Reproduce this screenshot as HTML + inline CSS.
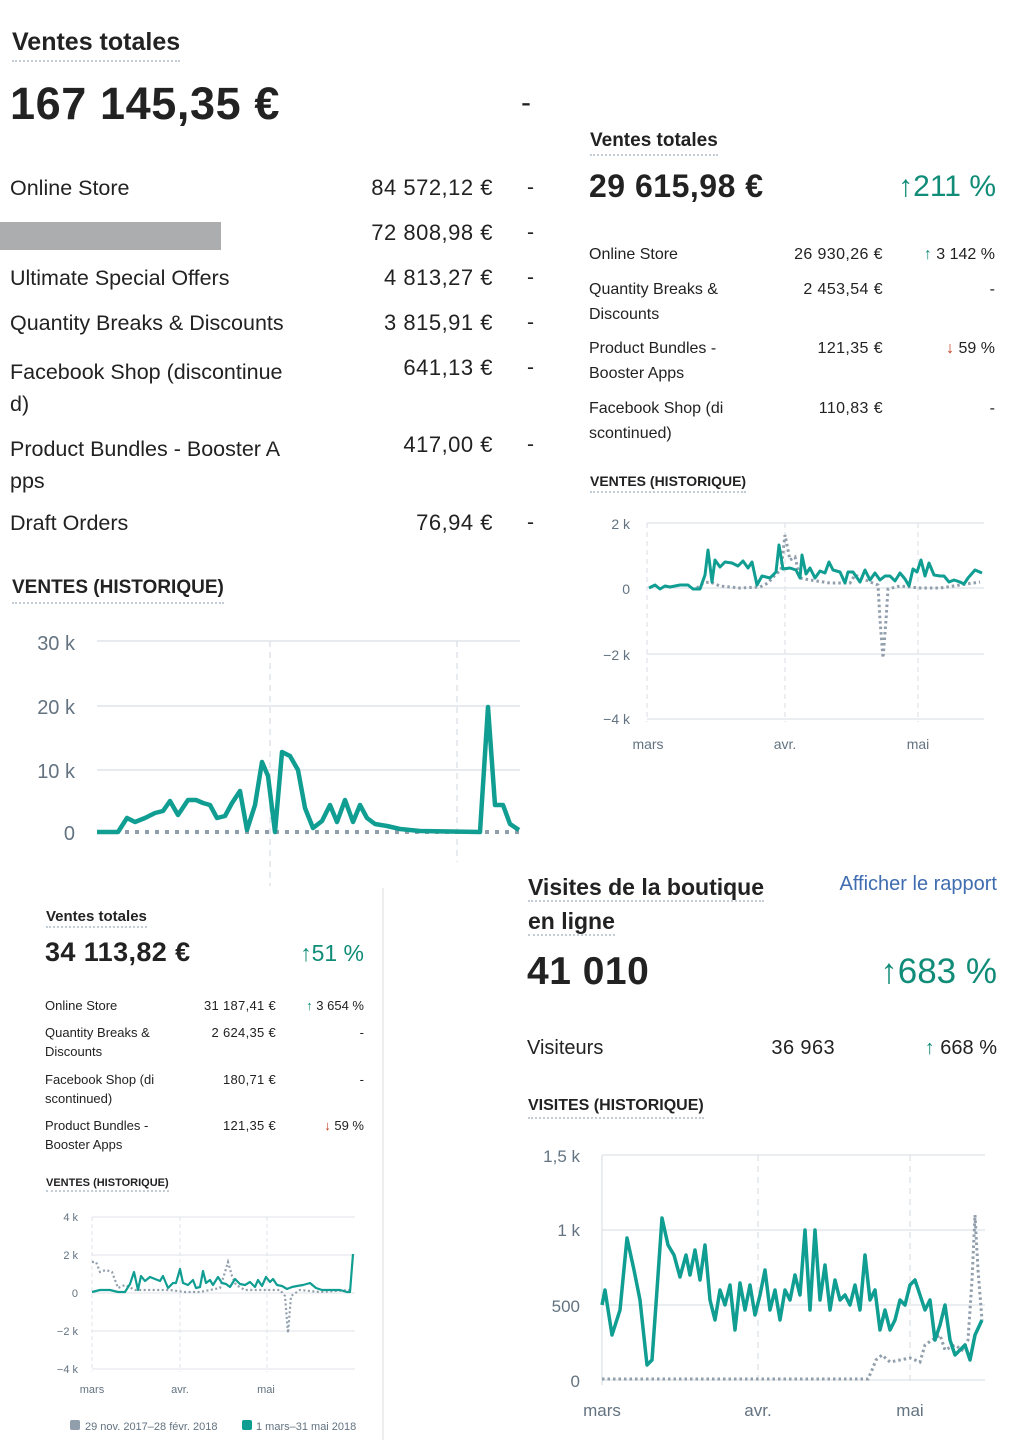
<!DOCTYPE html>
<html><head><meta charset="utf-8"><style>
*{margin:0;padding:0;box-sizing:border-box}
body{width:1018px;height:1440px;position:relative;background:#fff;font-family:"Liberation Sans",sans-serif;color:#222;overflow:hidden}
.a{position:absolute;white-space:nowrap}
.r{text-align:right}
.t{font-weight:bold;border-bottom:2px dotted #c4cdd5}
.g{color:#108c78}
.red{color:#bf3a1c}
.gr{color:#637381}
</style></head><body>

<!-- TOP LEFT -->
<div class="a t" style="left:12px;top:28px;font-size:25px;padding-bottom:3px">Ventes totales</div>
<div class="a" style="left:10px;top:78px;font-size:45px;font-weight:bold;letter-spacing:0.6px">167 145,35 €</div>
<div class="a" style="left:521px;top:86px;font-size:30px">-</div>
<div style="position:absolute;left:0;top:222px;width:221px;height:28px;background:#acadae"></div>
<div class="a" style="left:10px;top:176px;font-size:21.5px;line-height:24px">Online Store</div>
<div class="a" style="left:10px;top:266px;font-size:21.5px;line-height:24px">Ultimate Special Offers</div>
<div class="a" style="left:10px;top:311px;font-size:21.5px;line-height:24px">Quantity Breaks &amp; Discounts</div>
<div class="a" style="left:10px;top:356px;font-size:21.5px;line-height:32px">Facebook Shop (discontinue<br>d)</div>
<div class="a" style="left:10px;top:433px;font-size:21.5px;line-height:32px">Product Bundles - Booster A<br>pps</div>
<div class="a" style="left:10px;top:511px;font-size:21.5px;line-height:24px">Draft Orders</div>
<div class="a r" style="left:300px;width:193px;top:176px;font-size:22px;line-height:24px;letter-spacing:0.5px">84 572,12 €</div>
<div class="a r" style="left:300px;width:193px;top:221px;font-size:22px;line-height:24px;letter-spacing:0.5px">72 808,98 €</div>
<div class="a r" style="left:300px;width:193px;top:266px;font-size:22px;line-height:24px;letter-spacing:0.5px">4 813,27 €</div>
<div class="a r" style="left:300px;width:193px;top:311px;font-size:22px;line-height:24px;letter-spacing:0.5px">3 815,91 €</div>
<div class="a r" style="left:300px;width:193px;top:356px;font-size:22px;line-height:24px;letter-spacing:0.5px">641,13 €</div>
<div class="a r" style="left:300px;width:193px;top:433px;font-size:22px;line-height:24px;letter-spacing:0.5px">417,00 €</div>
<div class="a r" style="left:300px;width:193px;top:511px;font-size:22px;line-height:24px;letter-spacing:0.5px">76,94 €</div>
<div class="a" style="left:527px;top:176px;font-size:21px">-</div>
<div class="a" style="left:527px;top:221px;font-size:21px">-</div>
<div class="a" style="left:527px;top:266px;font-size:21px">-</div>
<div class="a" style="left:527px;top:311px;font-size:21px">-</div>
<div class="a" style="left:527px;top:356px;font-size:21px">-</div>
<div class="a" style="left:527px;top:433px;font-size:21px">-</div>
<div class="a" style="left:527px;top:511px;font-size:21px">-</div>
<div class="a t" style="left:12px;top:577px;font-size:19px;padding-bottom:3px">VENTES (HISTORIQUE)</div>

<svg class="a" style="left:0;top:0" width="1018" height="1440">
<g font-family="Liberation Sans,sans-serif" fill="#637381">
<g stroke="#dfe3e8" stroke-width="1.5"><line x1="97" y1="641" x2="520" y2="641"/><line x1="97" y1="706" x2="520" y2="706"/><line x1="97" y1="770" x2="520" y2="770"/></g>
<g stroke="#dfe3e8" stroke-width="1.5" stroke-dasharray="6,5"><line x1="270" y1="641" x2="270" y2="886"/><line x1="457" y1="641" x2="457" y2="886"/></g>
<g font-size="20" text-anchor="end"><text x="75" y="650">30 k</text><text x="75" y="714">20 k</text><text x="75" y="778">10 k</text><text x="75" y="840">0</text></g>
<line x1="125" y1="832" x2="519" y2="832" stroke="#919eab" stroke-width="4" stroke-dasharray="4,6"/>
<polyline fill="none" stroke="#109d92" stroke-width="4.5" stroke-linejoin="round" points="97,832 118,832 127,818 135,822 145,818 155,813 163,811 170,801 178,815 188,800 196,800 203,803 210,805 217,818 225,816 232,803 240,791 247,830 255,805 262,762 268,776 275,832 282,752 290,756 298,770 305,808 313,828 322,821 330,805 337,822 345,800 353,822 360,805 367,818 375,824 387,826 400,829 420,831 480,832 488,707 495,805 503,805 510,824 519,830"/>
</g>
</svg>

<!-- TOP RIGHT -->
<div class="a t" style="left:590px;top:130px;font-size:19px;padding-bottom:2px">Ventes totales</div>
<div class="a" style="left:589px;top:168px;font-size:32px;font-weight:bold;letter-spacing:0.5px">29 615,98 €</div>
<div class="a r g" style="left:850px;width:146px;top:170px;font-size:30px">↑211 %</div>
<div class="a" style="left:589px;top:242px;font-size:16px;line-height:25px">Online Store</div>
<div class="a" style="left:589px;top:277px;font-size:16px;line-height:25px">Quantity Breaks &amp;<br>Discounts</div>
<div class="a" style="left:589px;top:336px;font-size:16px;line-height:25px">Product Bundles -<br>Booster Apps</div>
<div class="a" style="left:589px;top:396px;font-size:16px;line-height:25px">Facebook Shop (di<br>scontinued)</div>
<div class="a r" style="left:760px;width:123px;top:242px;font-size:16px;line-height:25px;letter-spacing:0.4px">26 930,26 €</div>
<div class="a r" style="left:760px;width:123px;top:277px;font-size:16px;line-height:25px;letter-spacing:0.4px">2 453,54 €</div>
<div class="a r" style="left:760px;width:123px;top:336px;font-size:16px;line-height:25px;letter-spacing:0.4px">121,35 €</div>
<div class="a r" style="left:760px;width:123px;top:396px;font-size:16px;line-height:25px;letter-spacing:0.4px">110,83 €</div>
<div class="a r" style="left:890px;width:105px;top:242px;font-size:16px;line-height:25px"><span class="g">↑</span> 3 142 %</div>
<div class="a r" style="left:890px;width:105px;top:277px;font-size:16px;line-height:25px">-</div>
<div class="a r" style="left:890px;width:105px;top:336px;font-size:16px;line-height:25px"><span class="red">↓</span> 59 %</div>
<div class="a r" style="left:890px;width:105px;top:396px;font-size:16px;line-height:25px">-</div>
<div class="a t" style="left:590px;top:473px;font-size:14px;padding-bottom:2px">VENTES (HISTORIQUE)</div>

<svg class="a" style="left:0;top:0" width="1018" height="1440">
<g font-family="Liberation Sans,sans-serif" fill="#637381">
<g stroke="#dfe3e8" stroke-width="1.2"><line x1="647" y1="523" x2="984" y2="523"/><line x1="647" y1="588" x2="984" y2="588"/><line x1="647" y1="654" x2="984" y2="654"/><line x1="647" y1="719" x2="984" y2="719"/></g>
<g stroke="#dfe3e8" stroke-width="1.2" stroke-dasharray="5,4"><line x1="647" y1="523" x2="647" y2="722"/><line x1="785" y1="523" x2="785" y2="722"/><line x1="918" y1="523" x2="918" y2="722"/></g>
<g font-size="14" text-anchor="end"><text x="630" y="529">2 k</text><text x="630" y="594">0</text><text x="630" y="660">−2 k</text><text x="630" y="724">−4 k</text></g>
<g font-size="14" text-anchor="middle"><text x="648" y="749">mars</text><text x="785" y="749">avr.</text><text x="918" y="749">mai</text></g>
<polyline fill="none" stroke="#919eab" stroke-width="3" stroke-dasharray="2.5,3" points="697,588 703,583 710,582 720,586 740,588 760,587 768,583 775,575 781,570 785,535 790,560 795,557 800,578 810,580 830,583 850,583 855,575 870,582 878,585 880,620 883,658 886,620 888,589 900,586 920,588 940,588 960,585 980,582"/>
<polyline fill="none" stroke="#109d92" stroke-width="3" stroke-linejoin="round" points="649,588 655,585 660,589 665,586 670,587 675,586 680,585 688,585 693,589 700,589 705,575 708,550 712,582 715,560 720,567 725,562 732,563 738,566 743,561 748,568 752,562 757,585 762,576 770,578 776,572 779,545 783,569 790,568 796,570 800,578 802,555 806,574 810,568 815,578 820,571 825,573 829,562 833,570 840,572 845,583 848,572 853,572 860,582 865,570 870,580 875,573 880,580 885,576 890,576 895,581 900,573 905,579 909,586 913,569 917,572 921,560 925,576 929,563 934,575 940,576 944,576 949,582 954,580 960,582 964,584 968,578 975,570 982,573"/>
</g>
</svg>

<!-- BOTTOM LEFT PANEL -->
<div style="position:absolute;left:0;top:888px;width:384px;height:552px;background:#fff;border-right:2px solid #eceef0"></div>
<div class="a t" style="left:46px;top:908px;font-size:15px;padding-bottom:1px">Ventes totales</div>
<div class="a" style="left:45px;top:937px;font-size:27px;font-weight:bold;letter-spacing:0.4px">34 113,82 €</div>
<div class="a r g" style="left:250px;width:114px;top:940px;font-size:23px">↑51 %</div>
<div class="a" style="left:45px;top:996px;font-size:13px;line-height:19px">Online Store</div>
<div class="a" style="left:45px;top:1023px;font-size:13px;line-height:19px">Quantity Breaks &amp;<br>Discounts</div>
<div class="a" style="left:45px;top:1070px;font-size:13px;line-height:19px">Facebook Shop (di<br>scontinued)</div>
<div class="a" style="left:45px;top:1116px;font-size:13px;line-height:19px">Product Bundles -<br>Booster Apps</div>
<div class="a r" style="left:180px;width:96px;top:996px;font-size:13px;line-height:19px;letter-spacing:0.3px">31 187,41 €</div>
<div class="a r" style="left:180px;width:96px;top:1023px;font-size:13px;line-height:19px;letter-spacing:0.3px">2 624,35 €</div>
<div class="a r" style="left:180px;width:96px;top:1070px;font-size:13px;line-height:19px;letter-spacing:0.3px">180,71 €</div>
<div class="a r" style="left:180px;width:96px;top:1116px;font-size:13px;line-height:19px;letter-spacing:0.3px">121,35 €</div>
<div class="a r" style="left:280px;width:84px;top:996px;font-size:13px;line-height:19px"><span class="g">↑</span> 3 654 %</div>
<div class="a r" style="left:280px;width:84px;top:1023px;font-size:13px;line-height:19px">-</div>
<div class="a r" style="left:280px;width:84px;top:1070px;font-size:13px;line-height:19px">-</div>
<div class="a r" style="left:280px;width:84px;top:1116px;font-size:13px;line-height:19px"><span class="red">↓</span> 59 %</div>
<div class="a t" style="left:46px;top:1177px;font-size:11px;padding-bottom:1px">VENTES (HISTORIQUE)</div>

<!-- BOTTOM RIGHT PANEL -->
<div style="position:absolute;left:386px;top:862px;width:632px;height:578px;background:#fff"></div>
<div class="a" style="left:528px;top:870px;font-size:23px;font-weight:bold;line-height:34px"><span class="t">Visites de la boutique</span><br><span class="t">en ligne</span></div>
<div class="a r" style="left:800px;width:197px;top:873px;font-size:20px;color:#3f6db0">Afficher le rapport</div>
<div class="a" style="left:527px;top:950px;font-size:39px;font-weight:bold;letter-spacing:0.5px">41 010</div>
<div class="a r g" style="left:800px;width:197px;top:952px;font-size:35px">↑683 %</div>
<div class="a" style="left:527px;top:1037px;font-size:20px">Visiteurs</div>
<div class="a r" style="left:700px;width:135px;top:1037px;font-size:20px;letter-spacing:0.4px">36 963</div>
<div class="a r" style="left:860px;width:137px;top:1037px;font-size:20px"><span class="g">↑</span> 668 %</div>
<div class="a t" style="left:528px;top:1097px;font-size:16px;padding-bottom:2px">VISITES (HISTORIQUE)</div>

<svg class="a" style="left:0;top:0" width="1018" height="1440">
<g font-family="Liberation Sans,sans-serif" fill="#637381">
<g stroke="#dfe3e8" stroke-width="1"><line x1="92" y1="1217" x2="355" y2="1217"/><line x1="92" y1="1255" x2="355" y2="1255"/><line x1="92" y1="1293" x2="355" y2="1293"/><line x1="92" y1="1331" x2="355" y2="1331"/><line x1="92" y1="1369" x2="355" y2="1369"/></g>
<g stroke="#dfe3e8" stroke-width="1" stroke-dasharray="4,3"><line x1="92" y1="1217" x2="92" y2="1372"/><line x1="180" y1="1217" x2="180" y2="1372"/><line x1="267" y1="1217" x2="267" y2="1372"/></g>
<g font-size="11" text-anchor="end"><text x="78" y="1221">4 k</text><text x="78" y="1259">2 k</text><text x="78" y="1297">0</text><text x="78" y="1335">−2 k</text><text x="78" y="1373">−4 k</text></g>
<g font-size="11" text-anchor="middle"><text x="92" y="1393">mars</text><text x="180" y="1393">avr.</text><text x="266" y="1393">mai</text></g>
<polyline fill="none" stroke="#919eab" stroke-width="2.2" stroke-dasharray="2,2.5" points="92,1262 96,1262 100,1272 106,1270 112,1272 118,1288 125,1285 135,1290 150,1290 170,1290 185,1292 200,1292 220,1288 225,1272 228,1262 232,1276 236,1285 245,1290 260,1290 280,1290 285,1296 288,1333 291,1296 300,1290 320,1292 350,1290"/>
<polyline fill="none" stroke="#109d92" stroke-width="2.2" stroke-linejoin="round" points="92,1292 100,1290 110,1290 118,1292 125,1292 130,1284 134,1272 138,1290 141,1276 145,1281 150,1277 155,1279 160,1281 163,1276 168,1288 173,1283 176,1283 180,1269 183,1283 188,1285 193,1280 196,1288 200,1287 203,1271 206,1283 210,1280 213,1285 218,1277 222,1283 226,1284 230,1287 235,1279 240,1284 245,1285 250,1282 255,1287 258,1280 262,1286 266,1277 270,1282 273,1279 277,1285 282,1286 287,1289 292,1287 297,1286 303,1285 310,1283 316,1288 322,1290 330,1290 340,1290 347,1292 350,1292 353,1254"/>
<rect x="70" y="1420" width="10" height="10" rx="2" fill="#919eab"/>
<text x="85" y="1430" font-size="11">29 nov. 2017–28 févr. 2018</text>
<rect x="242" y="1420" width="10" height="10" rx="2" fill="#109d92"/>
<text x="256" y="1430" font-size="11">1 mars–31 mai 2018</text>

<g stroke="#dfe3e8" stroke-width="1.3"><line x1="602" y1="1155" x2="985" y2="1155"/><line x1="602" y1="1230" x2="985" y2="1230"/><line x1="602" y1="1305" x2="985" y2="1305"/><line x1="602" y1="1380" x2="985" y2="1380"/></g>
<line x1="602" y1="1155" x2="602" y2="1385" stroke="#dfe3e8" stroke-width="1.3"/>
<g stroke="#dfe3e8" stroke-width="1.3" stroke-dasharray="6,5"><line x1="758" y1="1155" x2="758" y2="1385"/><line x1="910" y1="1155" x2="910" y2="1385"/></g>
<g font-size="17" text-anchor="end"><text x="580" y="1162">1,5 k</text><text x="580" y="1236">1 k</text><text x="580" y="1312">500</text><text x="580" y="1387">0</text></g>
<g font-size="17" text-anchor="middle"><text x="602" y="1416">mars</text><text x="758" y="1416">avr.</text><text x="910" y="1416">mai</text></g>
<polyline fill="none" stroke="#919eab" stroke-width="3" stroke-dasharray="2.5,3" points="602,1379 868,1379 872,1370 876,1360 882,1355 890,1362 900,1360 910,1358 920,1362 925,1345 932,1340 940,1335 945,1350 955,1345 962,1350 968,1340 972,1280 975,1215 978,1270 982,1320"/>
<polyline fill="none" stroke="#109d92" stroke-width="3.5" stroke-linejoin="round" points="602,1305 605,1290 612,1335 620,1310 627,1238 634,1270 640,1300 647,1365 652,1360 657,1290 662,1218 668,1245 674,1255 680,1277 686,1255 690,1275 695,1250 700,1280 705,1245 710,1300 715,1320 720,1290 725,1305 730,1285 735,1330 740,1283 745,1310 750,1285 755,1315 760,1295 765,1270 770,1310 775,1290 780,1320 785,1290 790,1300 795,1275 800,1295 805,1230 810,1310 815,1230 820,1300 825,1265 830,1310 835,1280 840,1300 845,1295 850,1305 855,1285 860,1310 865,1255 870,1300 875,1290 880,1330 885,1310 890,1330 895,1320 900,1300 905,1305 910,1285 915,1280 920,1295 925,1310 930,1300 935,1340 940,1325 945,1305 950,1340 955,1355 960,1350 965,1345 970,1360 975,1335 982,1320"/>
</g>
</svg>
</body></html>
